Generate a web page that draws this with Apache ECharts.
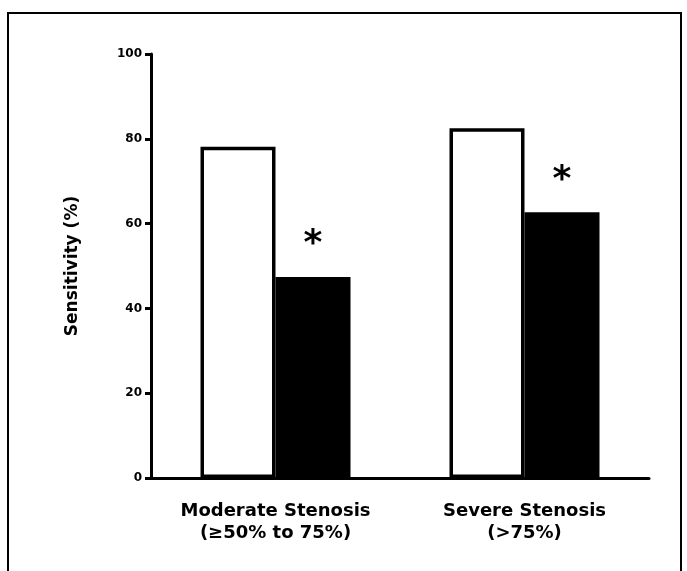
<!DOCTYPE html>
<html style="height: 100%">
<head>
<meta charset="utf-8">
</head>
<body style="height: 100%; margin: 0; background: #fff">
<div id="container" style="height: 571px; width: 687px;"></div>
<script type="text/javascript" src="https://cdn.jsdelivr.net/npm/echarts@6/dist/echarts.min.js"></script>
<script type="text/javascript">

// groups on the x axis
var categories = ['Moderate Stenosis\n(\u226550% to 75%)', 'Severe Stenosis\n(>75%)'];
// open bars and filled bars (sensitivity, %)
var openBars = [78.1, 82.5];
var filledBars = [47.4, 62.7];
var yTicks = [0, 20, 40, 60, 80, 100];

var dom = document.getElementById('container');
var myChart = echarts.init(dom);
var font = '"DejaVu Sans", Arial, sans-serif';

var option = {
    animation: false,
    backgroundColor: '#fff',
    graphic: [{
        type: 'rect',
        shape: { x: 8, y: 13, width: 673, height: 580 },
        style: { fill: 'none', stroke: '#000', lineWidth: 2 }
    }],
    grid: { left: 151, right: 38, top: 54, bottom: 93 },
    xAxis: {
        type: 'category',
        data: categories,
        axisLine: { lineStyle: { color: '#000', width: 3 } },
        axisTick: { show: false },
        axisLabel: {
            color: '#000',
            fontFamily: font,
            fontWeight: 'bold',
            fontSize: 18,
            lineHeight: 22,
            margin: 22
        }
    },
    yAxis: {
        type: 'value',
        min: yTicks[0],
        max: yTicks[yTicks.length - 1],
        interval: 20,
        name: 'Sensitivity (%)',
        nameLocation: 'middle',
        nameGap: 70,
        nameTextStyle: { color: '#000', fontFamily: font, fontWeight: 'bold', fontSize: 17 },
        splitLine: { show: false },
        axisLine: { show: true, lineStyle: { color: '#000', width: 3 } },
        axisTick: { show: true, length: 6, lineStyle: { color: '#000', width: 3 } },
        axisLabel: { color: '#000', fontFamily: font, fontWeight: 'bold', fontSize: 12, margin: 9 }
    },
    series: [{
        type: 'bar',
        data: openBars,
        barWidth: 75,
        barGap: '0%',
        itemStyle: { color: '#fff', borderColor: '#000', borderWidth: 3.5 }
    }, {
        type: 'bar',
        data: filledBars,
        barWidth: 75,
        itemStyle: { color: '#000' },
        label: {
            show: true,
            position: 'top',
            formatter: '*',
            distance: 14,
            color: '#000',
            fontFamily: font,
            fontWeight: 'bold',
            fontSize: 36
        }
    }]
};

myChart.setOption(option, true);

</script>
</body>
</html>
